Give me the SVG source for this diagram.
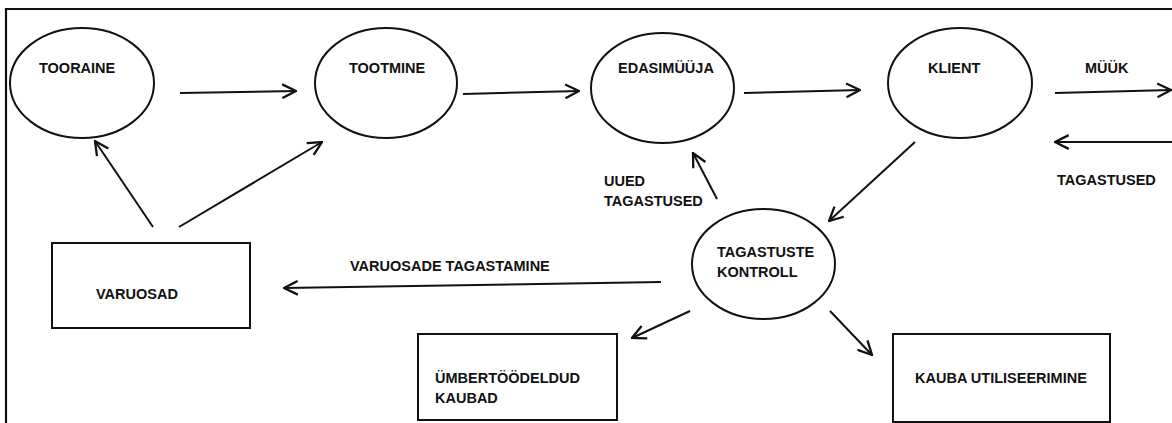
<svg xmlns="http://www.w3.org/2000/svg" width="1172" height="423" viewBox="0 0 1172 423">
  <style>
    .shape { fill: #fff; stroke: #111; stroke-width: 2; }
    .frame { fill: none; stroke: #111; stroke-width: 2.2; }
    .flow { fill: none; stroke: #111; stroke-width: 2; marker-end: url(#chevron); }
    text { font-family: "Liberation Sans", Arial, sans-serif; font-weight: bold; font-size: 14.5px; fill: #111; }
  </style>
  <defs>
    <marker id="chevron" markerUnits="userSpaceOnUse" markerWidth="16" markerHeight="16" viewBox="-1 -1 14 14" refX="12" refY="6" orient="auto">
      <path d="M0,0 L12,6 L0,12" fill="none" stroke="#111" stroke-width="2"/>
    </marker>
  </defs>

  <rect width="1172" height="423" fill="#fff"/>

  <!-- outer frame: top and left borders only -->
  <path class="frame" d="M6,423 L6,9 L1172,9"/>

  <g id="tooraine">
    <ellipse class="shape" cx="82" cy="83" rx="72" ry="55"/>
    <text x="39" y="73">TOORAINE</text>
  </g>

  <g id="tootmine">
    <ellipse class="shape" cx="386" cy="83" rx="71" ry="55"/>
    <text x="349" y="73">TOOTMINE</text>
  </g>

  <g id="edasimuuja">
    <ellipse class="shape" cx="662.5" cy="88" rx="71.5" ry="55"/>
    <text x="618" y="73">EDASIMÜÜJA</text>
  </g>

  <g id="klient">
    <ellipse class="shape" cx="960" cy="83" rx="72" ry="55"/>
    <text x="928" y="73">KLIENT</text>
  </g>

  <g id="tagastuste-kontroll">
    <ellipse class="shape" cx="763.5" cy="264" rx="71.5" ry="55"/>
    <text x="717" y="257">TAGASTUSTE</text>
    <text x="717" y="277">KONTROLL</text>
  </g>

  <g id="varuosad">
    <rect class="shape" x="52" y="243" width="198" height="85"/>
    <text x="96" y="299">VARUOSAD</text>
  </g>

  <g id="umbertoodeldud">
    <rect class="shape" x="418" y="334" width="199" height="86"/>
    <text x="435" y="383">ÜMBERTÖÖDELDUD</text>
    <text x="435" y="403">KAUBAD</text>
  </g>

  <g id="kauba-utiliseerimine">
    <rect class="shape" x="893" y="334" width="217" height="88"/>
    <text x="915" y="383">KAUBA UTILISEERIMINE</text>
  </g>

  <g id="connectors">
    <line class="flow" x1="180" y1="93" x2="296" y2="91"/>
    <line class="flow" x1="463" y1="94" x2="579" y2="91"/>
    <line class="flow" x1="744" y1="93" x2="860" y2="90"/>
    <line class="flow" x1="1055" y1="93" x2="1171" y2="90"/>
    <line class="flow" x1="1172" y1="142" x2="1055" y2="142"/>
    <line class="flow" x1="915" y1="142" x2="829" y2="221"/>
    <line class="flow" x1="717" y1="199" x2="693" y2="153"/>
    <line class="flow" x1="661" y1="282" x2="284" y2="288"/>
    <line class="flow" x1="690" y1="311" x2="632" y2="338"/>
    <line class="flow" x1="830" y1="311" x2="872" y2="355"/>
    <line class="flow" x1="153" y1="227" x2="95" y2="141"/>
    <line class="flow" x1="179" y1="227" x2="322" y2="142"/>
  </g>

  <g id="labels">
    <text x="1085" y="73">MÜÜK</text>
    <text x="1057" y="185">TAGASTUSED</text>
    <text x="604" y="186">UUED</text>
    <text x="604" y="206">TAGASTUSED</text>
    <text x="350" y="271">VARUOSADE TAGASTAMINE</text>
  </g>
</svg>
